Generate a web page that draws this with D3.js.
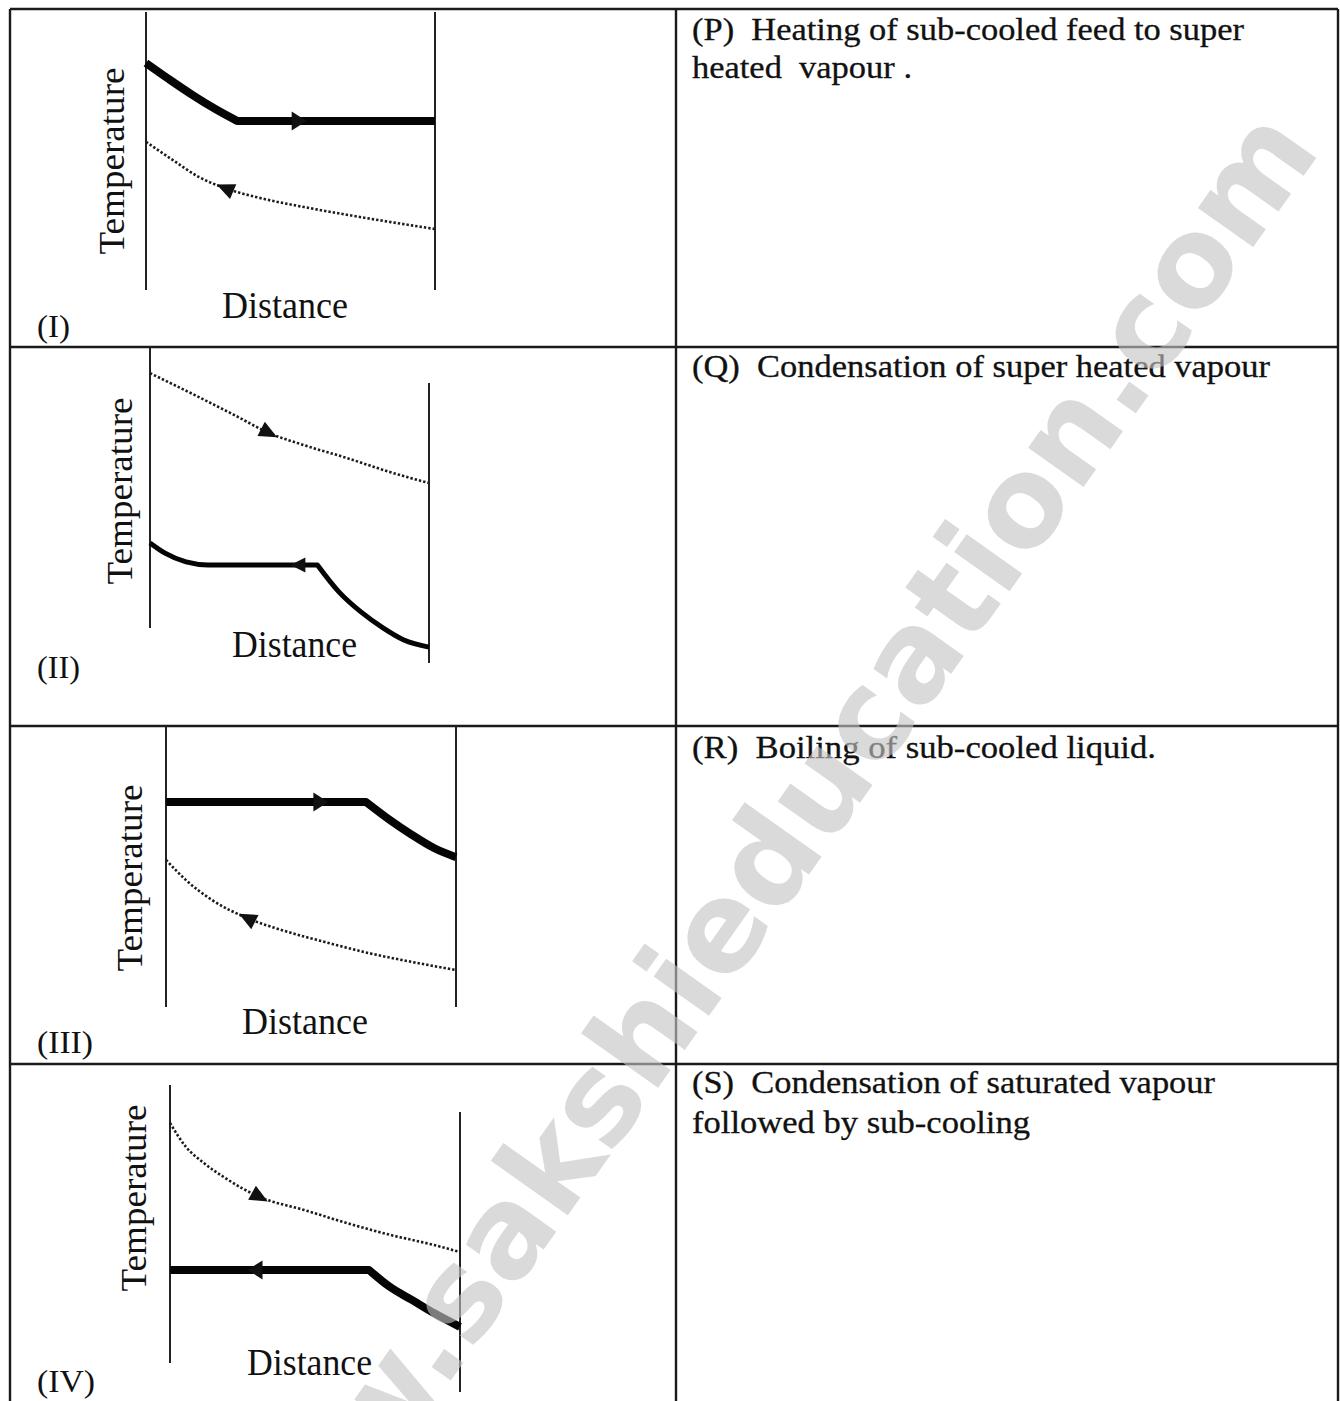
<!DOCTYPE html>
<html>
<head>
<meta charset="utf-8">
<script src="https://cdn.jsdelivr.net/npm/d3@7"></script>
<style>
    body { margin: 0; background: #ffffff; }
    #chart { width: 1340px; height: 1401px; }
</style>
</head>
<body>
<div id="chart"></div>
<script>

/* DATA.
   Distance runs 0..10 between the two walls of each panel,
   temperature runs 0..100 from the bottom to the top of each table row. */

const panelLabels = ["(I)", "(II)", "(III)", "(IV)"];
const axisTitles = ["Temperature", "Distance"];

const descriptions = [
    ["(P)  Heating of sub-cooled feed to super", "heated  vapour ."],
    ["(Q)  Condensation of super heated vapour"],
    ["(R)  Boiling of sub-cooled liquid."],
    ["(S)  Condensation of saturated vapour", "followed by sub-cooling"]
];

// thick (solid) stream
const solidDistance = [
    [0, 0.8, 1.6, 2.4, 3.15, 10],
    [0, 0.54, 1.29, 2.08, 6.0, 6.77, 7.56, 8.35, 9.1, 10],
    [0, 6.9, 7.72, 8.48, 9.24, 10],
    [0, 6.86, 7.59, 8.34, 9.1, 10]
];
const solidTemp = [
    [84.0, 79.2, 74.6, 70.4, 66.9, 66.9],
    [48.3, 45.6, 43.3, 42.5, 42.5, 35.4, 30.1, 25.9, 22.7, 20.8],
    [77.5, 77.5, 72.2, 67.8, 63.9, 61.2],
    [38.9, 38.9, 33.8, 30.0, 26.1, 22.0]
];
// index of the sharp kink in each solid line (phase change point)
const solidKink = [4, 4, 1, 1];

// thin (dotted) stream
const dottedDistance = [
    [0, 0.93, 1.83, 2.73, 3.94, 5.47, 6.96, 8.44, 10],
    [0, 1.61, 3.01, 4.27, 5.52, 7.06, 8.6, 10],
    [0, 0.69, 1.59, 2.79, 4.0, 5.48, 7.0, 8.48, 10],
    [0, 0.55, 1.17, 1.9, 3.1, 4.62, 6.1, 7.59, 9.1, 10]
];
const dottedTemp = [
    [60.7, 55.3, 50.3, 47.0, 44.1, 41.4, 39.1, 37.0, 34.9],
    [93.1, 87.3, 82.1, 77.3, 74.1, 70.7, 67.0, 64.1],
    [60.4, 54.4, 48.5, 43.2, 39.6, 36.1, 32.8, 30.2, 27.8],
    [82.5, 75.4, 70.6, 66.2, 60.5, 56.7, 52.8, 49.3, 46.3, 44.2]
];

// flow arrows: where on the distance axis, and which way (+1 = with distance)
const solidArrowAt = [5.3, 5.3, 5.34, 2.93];
const solidFlow = [1, -1, 1, -1];
const dottedArrowAt = [2.73, 4.27, 2.79, 3.1];
const dottedFlow = [-1, 1, -1, 1];

const watermark = "www.sakshieducation.com";


/* LAYOUT (pixels) */
const width = 1340;
const height = 1401;
const tableLeft = 10, tableRight = 1338, colSplit = 676, textLeft = 692;
const rowEdges = [9, 347, 726, 1064, 1401];

const frames = [
    { x0: 146, x1: 435, leftTop: 12,   leftBottom: 290,  rightTop: 12,   rightBottom: 290,  solidWidth: 8 },
    { x0: 150, x1: 429, leftTop: 347,  leftBottom: 628,  rightTop: 383,  rightBottom: 663,  solidWidth: 5 },
    { x0: 166, x1: 456, leftTop: 726,  leftBottom: 1007, rightTop: 726,  rightBottom: 1007, solidWidth: 8 },
    { x0: 170, x1: 460, leftTop: 1085, leftBottom: 1363, rightTop: 1112, rightBottom: 1392, solidWidth: 8 }
];

const tempTitlePos = [[124, 161], [132, 491], [142, 878], [146, 1198]];
const distTitlePos = [[222, 348, 318], [232, 357, 657], [242, 368, 1034], [247, 372, 1375]];
const labelPos = [[37, 70, 337], [37, 80, 678], [37, 93, 1053], [37, 95, 1392]];
const descBaselines = [[40, 78], [377], [758], [1093, 1133]];
const descEnds = [[1244, 912], [1270], [1156], [1215, 1030]];

const ink = "#111111";
const serif = "'Liberation Serif', 'Times New Roman', serif";

const svg = d3.select("#chart")
    .append("svg")
    .attr("width", width)
    .attr("height", height);

svg.append("rect")
    .attr("width", width)
    .attr("height", height)
    .attr("fill", "#ffffff");


/* TABLE GRID */
const grid = svg.append("g")
    .attr("stroke", "#1a1a1a")
    .attr("stroke-width", 2.4);

rowEdges.slice(0, 4).forEach(function(y) {
    grid.append("line")
        .attr("x1", tableLeft).attr("x2", tableRight)
        .attr("y1", y).attr("y2", y);
});
[tableLeft, colSplit, tableRight].forEach(function(x) {
    grid.append("line")
        .attr("x1", x).attr("x2", x)
        .attr("y1", rowEdges[0]).attr("y2", height);
});


/* one panel per table row */
function pointAt(pts, px) {
    // linear interpolation along the pixel polyline + local direction
    for (let i = 0; i < pts.length - 1; i++) {
        const a = pts[i], b = pts[i + 1];
        if (px >= a[0] && px <= b[0]) {
            const t = (px - a[0]) / (b[0] - a[0]);
            return {
                x: a[0] + t * (b[0] - a[0]),
                y: a[1] + t * (b[1] - a[1]),
                angle: Math.atan2(b[1] - a[1], b[0] - a[0]) * 180 / Math.PI
            };
        }
    }
    return { x: pts[0][0], y: pts[0][1], angle: 0 };
}

function drawArrow(g, pts, px, flow, len, half) {
    const p = pointAt(pts, px);
    const rot = p.angle + (flow < 0 ? 180 : 0);
    g.append("path")
        .attr("d", "M" + (len / 2) + ",0L" + (-len / 2) + "," + (-half) + "L" + (-len / 2) + "," + half + "Z")
        .attr("fill", ink)
        .attr("transform", "translate(" + p.x + "," + p.y + ") rotate(" + rot + ")");
}

const smooth = d3.line().curve(d3.curveMonotoneX);

frames.forEach(function(f, i) {
    const g = svg.append("g");

    const x = d3.scaleLinear().domain([0, 10]).range([f.x0, f.x1]);
    const y = d3.scaleLinear().domain([0, 100]).range([rowEdges[i + 1], rowEdges[i]]);

    // the two walls
    g.append("line")
        .attr("x1", f.x0).attr("x2", f.x0)
        .attr("y1", f.leftTop).attr("y2", f.leftBottom)
        .attr("stroke", "#222").attr("stroke-width", 2);
    g.append("line")
        .attr("x1", f.x1).attr("x2", f.x1)
        .attr("y1", f.rightTop).attr("y2", f.rightBottom)
        .attr("stroke", "#222").attr("stroke-width", 2);

    const solidPts = solidDistance[i].map(function(d, j) { return [x(d), y(solidTemp[i][j])]; });
    const dottedPts = dottedDistance[i].map(function(d, j) { return [x(d), y(dottedTemp[i][j])]; });

    g.append("path")
        .attr("d", smooth(dottedPts))
        .attr("fill", "none")
        .attr("stroke", "#1c1c1c")
        .attr("stroke-width", 2.6)
        .attr("stroke-dasharray", "2.4,2");

    // solid line: smooth on each side of the kink, sharp at the kink
    const k = solidKink[i];
    const before = smooth(solidPts.slice(0, k + 1));
    const after = smooth(solidPts.slice(k)).replace(/^M/, "L");
    g.append("path")
        .attr("d", before + after)
        .attr("fill", "none")
        .attr("stroke", "#050505")
        .attr("stroke-width", f.solidWidth)
        .attr("stroke-linejoin", "round")
        .attr("stroke-linecap", "butt");

    drawArrow(g, dottedPts, x(dottedArrowAt[i]), dottedFlow[i], 18, 8);
    drawArrow(g, solidPts, x(solidArrowAt[i]), solidFlow[i], 15, f.solidWidth > 6 ? 9.5 : 7.5);

    // axis titles
    g.append("text")
        .attr("transform", "translate(" + tempTitlePos[i][0] + "," + tempTitlePos[i][1] + ") rotate(-90)")
        .attr("text-anchor", "middle")
        .attr("font-family", serif)
        .attr("font-size", "36px")
        .attr("fill", ink)
        .attr("textLength", 187)
        .attr("lengthAdjust", "spacingAndGlyphs")
        .text(axisTitles[0]);

    g.append("text")
        .attr("x", distTitlePos[i][0])
        .attr("y", distTitlePos[i][2])
        .attr("font-family", serif)
        .attr("font-size", "37px")
        .attr("fill", ink)
        .attr("textLength", distTitlePos[i][1] - distTitlePos[i][0])
        .attr("lengthAdjust", "spacingAndGlyphs")
        .text(axisTitles[1]);

    // roman numeral
    g.append("text")
        .attr("x", labelPos[i][0])
        .attr("y", labelPos[i][2])
        .attr("font-family", serif)
        .attr("font-size", "31px")
        .attr("fill", ink)
        .attr("textLength", labelPos[i][1] - labelPos[i][0])
        .attr("lengthAdjust", "spacingAndGlyphs")
        .text(panelLabels[i]);

    // description in the right-hand column
    descriptions[i].forEach(function(line, n) {
        svg.append("text")
            .attr("x", textLeft)
            .attr("y", descBaselines[i][n])
            .attr("font-family", serif)
            .attr("font-size", "31px")
            .attr("fill", ink)
            .attr("stroke", ink)
            .attr("stroke-width", 0.3)
            .attr("textLength", descEnds[i][n] - textLeft)
            .attr("lengthAdjust", "spacingAndGlyphs")
            .style("white-space", "pre")
            .text(line);
    });
});


/* WATERMARK over everything (runs off the bottom edge as in the original) */
svg.append("text")
    .attr("transform", "translate(1322,150) rotate(-54.7)")
    .attr("text-anchor", "end")
    .attr("font-family", "'DejaVu Sans', Verdana, sans-serif")
    .attr("font-weight", "bold")
    .attr("font-size", "124px")
    .attr("fill", "#c4c4c4")
    .attr("opacity", 0.62)
    .text(watermark);

</script>
</body>
</html>
